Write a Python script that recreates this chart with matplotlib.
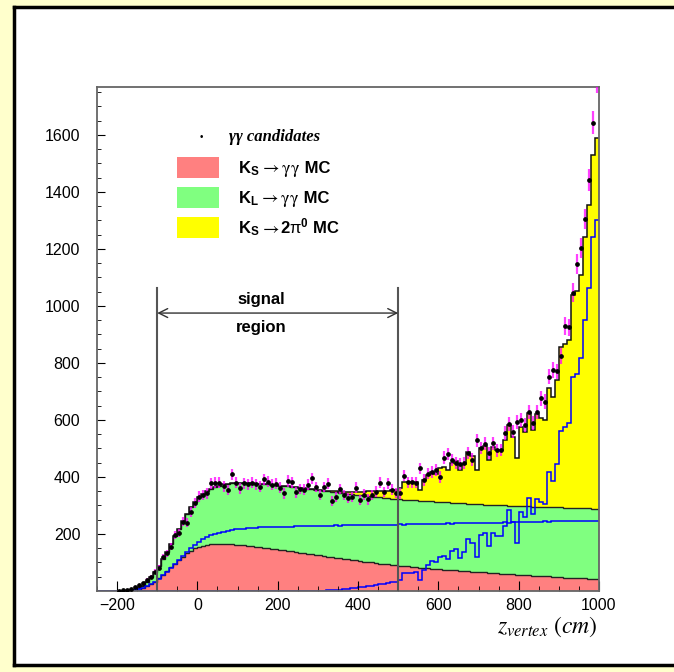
import numpy as np
import matplotlib
matplotlib.use('Agg')
import matplotlib.pyplot as plt
from matplotlib.patches import Rectangle
from matplotlib.lines import Line2D

plt.rcParams['font.family'] = ['Liberation Sans', 'DejaVu Sans']
plt.rcParams['mathtext.fontset'] = 'custom'
plt.rcParams['mathtext.rm'] = 'Liberation Sans'
plt.rcParams['mathtext.bf'] = 'Liberation Sans:bold'
plt.rcParams['mathtext.it'] = 'Liberation Sans:italic'

# z vertex binning (cm), 10 cm bins
edges = np.arange(-250, 1001, 10)

# K_S -> gamma gamma MC (red)
ks_gg = [0, 0, 0, 0, 0, 0, 0, 0, 1, 2,
         4, 9, 16, 24, 32, 44, 57, 70, 83, 96,
         108, 120, 132, 142, 150, 155, 159, 162, 164, 165,
         166, 166, 165, 164, 163, 161, 160, 158, 157, 155,
         154, 152, 150, 148, 146, 144, 143, 141, 139, 137,
         135, 133, 131, 129, 127, 125, 123, 121, 119, 117,
         115, 113, 111, 109, 107, 105, 103, 101, 100, 98,
         96, 94, 93, 91, 90, 88, 87, 86, 84, 83,
         82, 81, 80, 78, 77, 76, 75, 74, 73, 72,
         71, 70, 69, 68, 67, 66, 65, 64, 63, 62,
         61, 60, 59, 58, 57, 56, 56, 55, 54, 53,
         52, 51, 51, 50, 49, 48, 47, 47, 46, 45,
         44, 44, 43, 42, 42]

# K_L -> gamma gamma MC (green)
kl_gg = [0, 0, 0, 0, 0, 0, 0, 0, 1, 3,
         6, 10, 16, 24, 33, 43, 55, 68, 82, 96,
         110, 124, 138, 151, 163, 173, 182, 189, 195, 200,
         204, 208, 211, 214, 216, 218, 219, 220, 221, 222,
         223, 223, 224, 224, 225, 225, 226, 226, 226, 227,
         227, 228, 227, 228, 228, 229, 228, 229, 229, 230,
         229, 230, 230, 231, 230, 231, 231, 232, 231, 232,
         232, 233, 232, 233, 233, 234, 233, 234, 234, 235,
         234, 235, 235, 236, 235, 236, 236, 237, 236, 237,
         237, 238, 237, 238, 238, 239, 238, 239, 239, 240,
         240, 241, 240, 241, 241, 242, 241, 242, 242, 243,
         243, 244, 243, 244, 244, 245, 244, 245, 245, 246,
         246, 246, 247, 246, 247]

# K_S -> 2pi0 MC (yellow)
ks_2pi0 = [0] * 50 + [
         0, 0, 0, 0, 0, 1, 1, 2, 2, 3,
         4, 6, 7, 9, 11, 13, 15, 17, 19, 21,
         23, 25, 27, 30, 33, 40, 62, 63, 64, 65,
         38, 73, 92, 104, 100, 118, 124, 114, 140, 146,
         117, 138, 182, 169, 120, 196, 204, 157, 203, 193,
         194, 229, 283, 241, 169, 277, 261, 327, 269, 324,
         312, 305, 418, 387, 447, 563, 577, 588, 749, 761,
         819, 952, 1064, 1242, 1301]

# gamma gamma candidates (data)
data = [0, 0, 0, 0, 0, 1, 2, 4, 8, 15,
        21, 27, 39, 50, 68, 82, 120, 132, 156, 196,
        202, 243, 240, 278, 308, 331, 337, 343, 378, 380,
        380, 368, 354, 409, 380, 360, 378, 374, 380, 374,
        366, 392, 383, 372, 376, 362, 343, 386, 381, 346,
        358, 356, 372, 395, 365, 336, 365, 377, 316, 330,
        358, 337, 326, 330, 362, 320, 338, 321, 336, 349,
        380, 347, 378, 355, 344, 343, 405, 382, 381, 380,
        430, 389, 412, 418, 424, 400, 468, 480, 459, 449,
        447, 449, 484, 461, 529, 502, 516, 484, 519, 493,
        495, 554, 585, 559, 594, 600, 582, 627, 588, 629,
        676, 664, 752, 775, 770, 825, 930, 925, 1047, 1147,
        1203, 1305, 1442, 1642, 1790]

red = np.array(ks_gg, dtype=float)
kl = np.array(kl_gg, dtype=float)
yel = np.array(ks_2pi0, dtype=float)
green_top = red + kl
total = green_top + yel

fig = plt.figure(figsize=(6.74, 6.72), dpi=100)
fig.patch.set_facecolor('#FFFFCC')

# white pad with black border on left, top, bottom (runs off the right edge)
x0, y0, y1 = 14/674, 1-665/672, 1-7/672
fig.add_artist(Rectangle((x0, y0), 1.0, y1 - y0, transform=fig.transFigure,
                         facecolor='white', edgecolor='none', zorder=-10))
for xs, ys in [([x0, x0], [y0, y1]), ([x0, 1.0], [y1, y1]), ([x0, 1.0], [y0, y0])]:
    fig.add_artist(Line2D(xs, ys, transform=fig.transFigure, color='black',
                          lw=2.5, zorder=-9, solid_capstyle='projecting'))

ax = fig.add_axes([97/674, 1-591/672, 502/674, 504/672])

# stacked MC
ax.stairs(total, edges, baseline=green_top, fill=True, color='#FFFF00', lw=0)
ax.stairs(green_top, edges, baseline=red, fill=True, color='#80FF80', lw=0)
ax.stairs(red, edges, baseline=0, fill=True, color='#FF8080', lw=0)
ax.stairs(red, edges, baseline=None, color='#222222', lw=1)
ax.stairs(green_top, edges, baseline=None, color='#222222', lw=1)
ax.stairs(total, edges, baseline=None, color='#111111', lw=1.1)

# single components
ax.stairs(kl, edges, baseline=None, color='#0000FF', lw=1.1)
ax.stairs(yel, edges, baseline=None, color='#0000FF', lw=1.1)

# data
centers = 0.5 * (edges[:-1] + edges[1:])
d = np.array(data, dtype=float)
m = d > 0
ax.errorbar(centers[m], d[m], yerr=np.sqrt(d[m]), fmt='none', ecolor='#FF00FF',
            elinewidth=1.6, alpha=0.75, capsize=0, zorder=5)
ax.plot(centers[m], d[m], 'o', color='black', ms=2.4, zorder=6)

# signal region
ax.plot([-100, -100], [0, 1063], color='#555555', lw=1.5, zorder=7)
ax.plot([500, 500], [0, 1063], color='#555555', lw=1.5, zorder=7)
ax.annotate('', xy=(-100, 975), xytext=(500, 975),
            arrowprops=dict(arrowstyle='<->', color='#333333', lw=1,
                            mutation_scale=16, shrinkA=0, shrinkB=0), zorder=7)
ax.text(160, 1021, 'signal', ha='center', va='center', fontsize=12, fontweight='bold')
ax.text(160, 923, 'region', ha='center', va='center', fontsize=12, fontweight='bold')

ax.set_xlim(-250, 1000)
ax.set_ylim(0, 1768)
ax.set_xticks(range(-200, 1001, 200))
ax.set_xticks(range(-250, 1001, 50), minor=True)
ax.set_yticks(range(200, 1601, 200))
ax.set_yticks(range(50, 1751, 50), minor=True)
ax.tick_params(axis='both', which='both', direction='in', top=False, right=False,
               labelsize=11.5, color='black')
ax.tick_params(axis='x', which='major', length=7.5, pad=5)
ax.tick_params(axis='x', which='minor', length=3.8)
ax.tick_params(axis='y', which='major', length=5.5, pad=12)
ax.tick_params(axis='y', which='minor', length=2.8)
for s in ax.spines.values():
    s.set_color('#666666')
    s.set_linewidth(1.3)

fig.text(598/674, 1-627/672, r'$z_{vertex}\ (cm)$', ha='right', va='center',
         fontsize=17, math_fontfamily='stix')

# legend
fig.text(201/674, 1-137/672, '\u2022', ha='center', va='center', fontsize=7)
fig.text(229/674, 1-137/672, '\u03b3\u03b3 candidates', ha='left', va='center',
         fontsize=12, family='Liberation Serif', style='italic', fontweight='bold')

entries = [(157, '#FF8080', r'K$_{\mathbf{S}}$', r'$\rightarrow\mathrm{\gamma\gamma}$', ' MC'),
           (187, '#80FF80', r'K$_{\mathbf{L}}$', r'$\rightarrow\mathrm{\gamma\gamma}$', ' MC'),
           (217, '#FFFF00', r'K$_{\mathbf{S}}$', r'$\rightarrow$',
            r'2$\mathrm{\pi}^{\mathbf{0}}$ MC')]
for ytop, col, part1, part2, part3 in entries:
    fig.add_artist(Rectangle((177/674, 1-(ytop+21)/672), 42/674, 21/672,
                             transform=fig.transFigure, facecolor=col, edgecolor='none'))
    ybase = 1 - (ytop + 16) / 672
    t1 = fig.text(238/674, ybase, part1, ha='left', va='baseline',
                  fontsize=12, fontweight='bold')
    t2 = plt.annotate(part2, xy=(1, ybase), xycoords=(t1, 'figure fraction'),
                      ha='left', va='baseline', fontsize=13, math_fontfamily='stix')
    plt.annotate(part3, xy=(1, ybase), xycoords=(t2, 'figure fraction'),
                 ha='left', va='baseline', fontsize=12, fontweight='bold')

fig.savefig('out.png', dpi=100)
